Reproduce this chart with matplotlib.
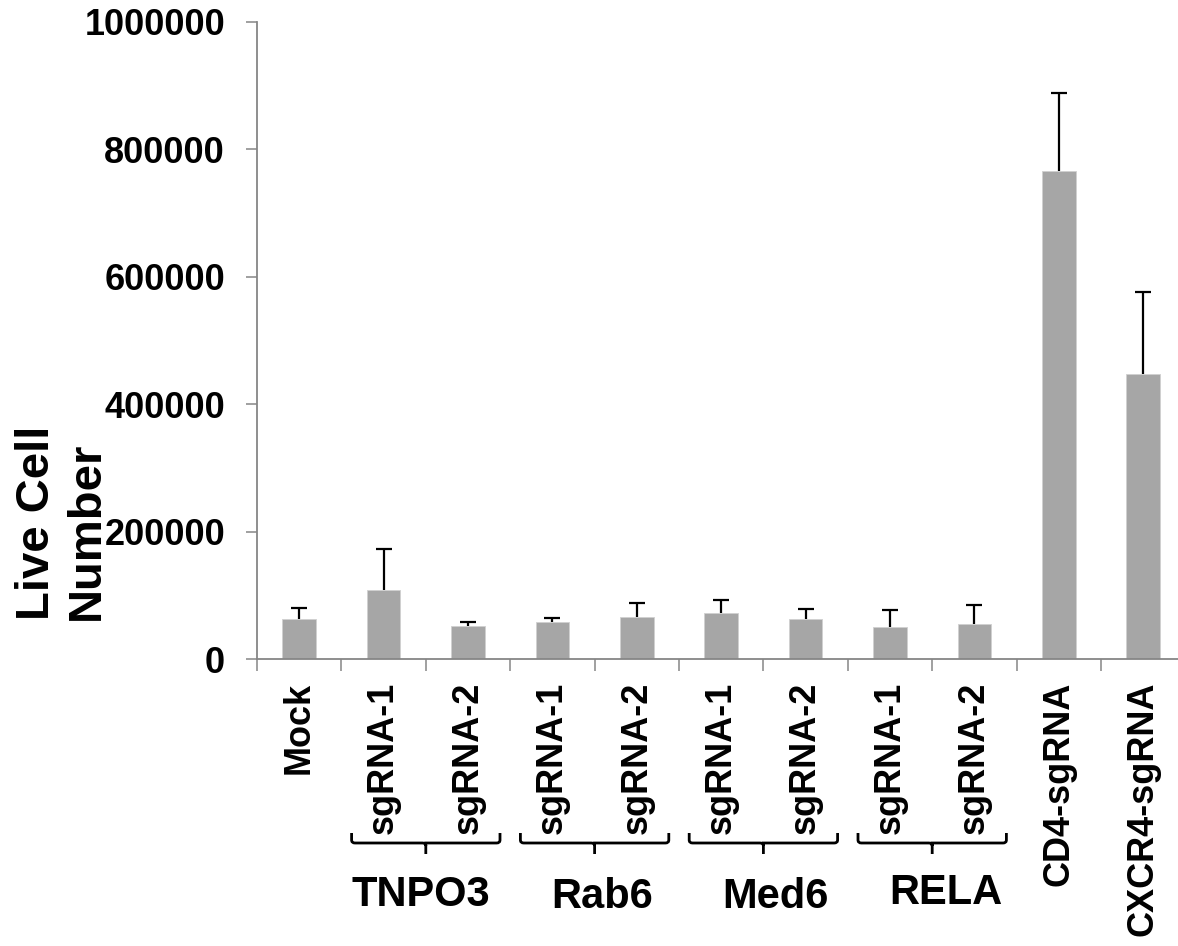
import matplotlib
matplotlib.use("Agg")
import matplotlib.pyplot as plt
from matplotlib.path import Path
from matplotlib.patches import PathPatch
import matplotlib.transforms as mtransforms

plt.rcParams['font.family'] = ['Liberation Sans', 'DejaVu Sans']
plt.rcParams['font.weight'] = 'bold'

# ---- data ----
categories = ['Mock', 'sgRNA-1', 'sgRNA-2', 'sgRNA-1', 'sgRNA-2', 'sgRNA-1',
              'sgRNA-2', 'sgRNA-1', 'sgRNA-2', 'CD4-sgRNA', 'CXCR4-sgRNA']
values = [63300, 109400, 52900, 59200, 65900, 72200, 63300, 51300, 56000, 765600, 447000]
errors = [16700, 64000, 5000, 5700, 22000, 21000, 15200, 25600, 28800, 122000, 129000]
groups = ['TNPO3', 'Rab6', 'Med6', 'RELA']
group_members = [(1, 2), (3, 4), (5, 6), (7, 8)]
y_ticks = [0, 200000, 400000, 600000, 800000, 1000000]
y_label = 'Live Cell\nNumber'

W, H = 1178, 946
fig = plt.figure(figsize=(W / 100, H / 100), dpi=100)
ax = fig.add_axes([257 / W, (H - 659.3) / H, 928.4 / W, 637.6 / H])

axis_gray = '#868686'
x = list(range(len(categories)))
ax.bar(x, values, width=0.40, color='#A6A6A6', edgecolor='#D0D0D0', linewidth=0.6, zorder=2)
eb = ax.errorbar(x, values, yerr=[[0] * len(errors), errors], fmt='none', ecolor='black',
                 elinewidth=1.6, capsize=6, capthick=1.6, zorder=3)
# hide the lower (zero-length) caps
caps = eb[1]
if len(caps) >= 2:
    caps[0].set_visible(False)

ax.set_xlim(-0.5, len(categories) - 0.5)
ax.set_ylim(0, 1000000)
ax.set_yticks(y_ticks)
ax.set_yticklabels([str(v) for v in y_ticks], fontsize=26, fontweight='bold')
ax.tick_params(axis='y', direction='out', length=8, width=1.1, color=axis_gray, pad=15)

ax.set_xticks(x)
ax.set_xticklabels(categories, rotation=90, fontsize=26, fontweight='bold', va='top', ha='center')
ax.set_xticks([i - 0.5 for i in range(len(categories) + 1)], minor=True)
ax.tick_params(axis='x', which='major', length=0, pad=16)
ax.tick_params(axis='x', which='minor', direction='out', length=8.5, width=1.1, color=axis_gray)

for s in ['top', 'right']:
    ax.spines[s].set_visible(False)
for s in ['left', 'bottom']:
    ax.spines[s].set_color(axis_gray)
    ax.spines[s].set_linewidth(1.3)

# y label
fig.text(62 / W, (H - 620) / H, y_label, rotation=90, fontsize=34, fontweight='bold',
         ha='center', va='bottom', multialignment='left', linespacing=1.15)

# brackets (x in data, y in figure pixels)
trans = mtransforms.blended_transform_factory(ax.transData, fig.transFigure)
def fy(py):
    return (H - py) / H

half = 32 / 84.4
label_dx = [-0.06, 0.09, 0.14, 0.16]
label_base = [906, 908, 908, 904]
for gi, (a, b) in enumerate(group_members):
    L, R = a - half, b + half
    C = (a + b) / 2
    r = 0.04
    verts = [(L, fy(833)), (L, fy(840)), (L, fy(843)), (L + r, fy(843)),
             (C - r, fy(843)), (C, fy(843)), (C, fy(846)), (C, fy(854)),
             (C, fy(846)), (C, fy(843)), (C + r, fy(843)),
             (R - r, fy(843)), (R, fy(843)), (R, fy(840)), (R, fy(833))]
    codes = [Path.MOVETO, Path.LINETO, Path.CURVE3, Path.CURVE3,
             Path.LINETO, Path.CURVE3, Path.CURVE3, Path.LINETO,
             Path.MOVETO, Path.LINETO, Path.LINETO,
             Path.LINETO, Path.CURVE3, Path.CURVE3, Path.LINETO]
    patch = PathPatch(Path(verts, codes), transform=trans, fill=False,
                      edgecolor='black', linewidth=2.0, clip_on=False)
    fig.add_artist(patch)
    ax.text(C + label_dx[gi], fy(label_base[gi]), groups[gi], transform=trans,
            fontsize=30, fontweight='bold', ha='center', va='baseline', clip_on=False)

fig.savefig('out.png', dpi=100)
